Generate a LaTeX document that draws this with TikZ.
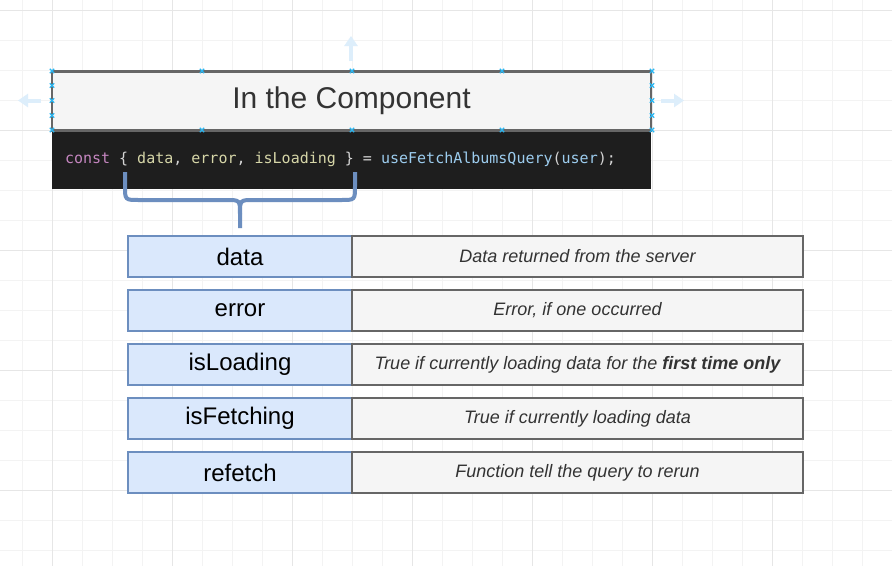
\documentclass[tikz,border=0pt]{standalone}
\usepackage{fontspec}
\setmainfont{Liberation Sans}
\setmonofont{DejaVu Sans Mono}
\usetikzlibrary{arrows.meta,positioning}

\definecolor{gridminor}{HTML}{F3F3F3}
\definecolor{gridmajor}{HTML}{E6E6E6}
\definecolor{boxline}{HTML}{666666}
\definecolor{boxfill}{HTML}{F5F5F5}
\definecolor{keyfill}{HTML}{DAE8FC}
\definecolor{keyline}{HTML}{6C8EBF}
\definecolor{codebg}{HTML}{1E1E1E}
\definecolor{codekw}{HTML}{C586C0}
\definecolor{codevar}{HTML}{D6D6A8}
\definecolor{codefn}{HTML}{9CCCEE}
\definecolor{codepun}{HTML}{D4D4D4}
\definecolor{textdark}{HTML}{333333}
\definecolor{handle}{HTML}{29B6F2}
\definecolor{hintblue}{HTML}{DDEEFB}

\begin{document}
\begin{tikzpicture}[
    x=1pt, y=-1pt, node distance=13pt,
    titlebox/.style={draw=boxline, fill=boxfill, line width=2.5pt, minimum width=599pt, minimum height=59pt, outer sep=0pt, text=textdark, font=\fontsize{30}{35}\selectfont},
    codebox/.style={fill=codebg, minimum width=599pt, minimum height=58pt, outer sep=0pt, inner xsep=13pt, text width=573pt, align=left, text=codepun, font=\ttfamily\fontsize{15}{18}\selectfont},
    keybox/.style={draw=keyline, fill=keyfill, line width=2.5pt, minimum width=224pt, minimum height=41pt, outer sep=0pt, font=\fontsize{24}{28}\selectfont},
    descbox/.style={draw=boxline, fill=boxfill, line width=2.5pt, minimum width=451pt, minimum height=41pt, outer sep=0pt, text=textdark, font=\itshape\fontsize{18}{22}\selectfont},
    brace/.style={draw=keyline, line width=4pt},
    hint/.style={draw=hintblue, line width=4pt, -{Triangle[length=10pt,width=13pt]}},
    grip/.style={draw=handle, line width=1.2pt},
]
\useasboundingbox[fill=white] (0,0) rectangle (892,566);

% grid
\foreach \gx in {22,52,...,892} \draw[gridminor] (\gx,0) -- (\gx,566);
\foreach \gy in {10,40,...,566} \draw[gridminor] (0,\gy) -- (892,\gy);
\foreach \gx in {52,172,...,892} \draw[gridmajor] (\gx,0) -- (\gx,566);
\foreach \gy in {10,130,...,566} \draw[gridmajor] (0,\gy) -- (892,\gy);

% header
\node[codebox] (code) at (351.5,159.5) {\spaceskip=9.03pt\relax\textcolor{codekw}{const} \{ \textcolor{codevar}{data}, \textcolor{codevar}{error}, \textcolor{codevar}{isLoading} \} = \textcolor{codefn}{useFetchAlbumsQuery}(\textcolor{codefn}{user});};
\node[titlebox, above=0pt of code] (title) {In the Component};

% selection hints
\foreach \hx/\hy in {52/71,202/71,352/71,502/71,652/71,52/130,202/130,352/130,502/130,652/130,52/85.5,52/100.5,52/115.5,652/85.5,652/100.5,652/115.5}
  \draw[grip] (\hx-2.2,\hy-2.2) -- (\hx+2.2,\hy+2.2) (\hx-2.2,\hy+2.2) -- (\hx+2.2,\hy-2.2);
\coordinate (hintL) at (41,100.5);
\coordinate (hintR) at (661,100.5);
\coordinate (hintU) at (351,61);
\draw[hint] (hintL) -- ++(-23,0);
\draw[hint] (hintR) -- ++(23,0);
\draw[hint] (hintU) -- ++(0,-25);

% brace
\coordinate (braceL) at (125,172);
\coordinate (braceR) at (355,172);
\coordinate (braceTip) at (240,228);
\draw[brace] (braceL) -- (125,186) .. controls (125,200) .. (139,200) -- (226,200) .. controls (240,200) .. (240,214) -- (braceTip);
\draw[brace] (braceR) -- (355,186) .. controls (355,200) .. (341,200) -- (254,200) .. controls (240,200) .. (240,214);

% rows
\node[keybox] (data) at (240,256.5) {data};
\node[descbox, right=0pt of data] (dataDesc) {Data returned from the server};
\node[keybox, below=of data] (error) {error};
\node[descbox, right=0pt of error] (errorDesc) {Error, if one occurred};
\node[keybox, below=of error] (loading) {isLoading};
\node[descbox, right=0pt of loading] (loadingDesc) {True if currently loading data for the \textbf{first time only}};
\node[keybox, below=of loading] (fetching) {isFetching};
\node[descbox, right=0pt of fetching] (fetchingDesc) {True if currently loading data};
\node[keybox, below=of fetching] (refetch) {refetch};
\node[descbox, right=0pt of refetch] (refetchDesc) {Function tell the query to rerun};
\end{tikzpicture}
\end{document}
